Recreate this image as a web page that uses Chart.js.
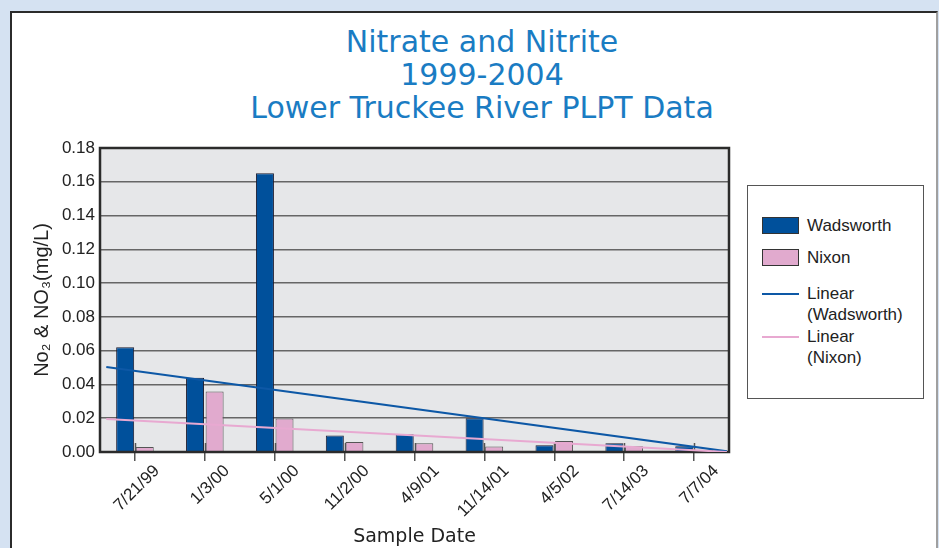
<!DOCTYPE html>
<html lang="en">
<head>
    <meta charset="UTF-8">
    <title>Nitrate and Nitrite 1999-2004</title>
    <style>
        body {
            margin: 0;
            background: #d5e2f2;
            width: 939px;
            height: 548px;
            overflow: hidden;
            position: relative;
        }
        #panel {
            position: absolute;
            left: 10px;
            top: 11px;
            width: 924px;
            height: 600px;
            background: #fff;
            border-top: 2px solid #2b2b2b;
            border-left: 2px solid #2b2b2b;
            border-right: 2px solid #a0a0a0;
        }
        #title {
            position: absolute;
            left: 232px;
            width: 500px;
            top: 25px;
            text-align: center;
            font-family: "DejaVu Sans", sans-serif;
            font-size: 30px;
            line-height: 33px;
            color: #1a7cc3;
            white-space: nowrap;
        }
        .chartBox {
            position: absolute;
            left: 0;
            top: 0;
            width: 939px;
            height: 548px;
        }
        #legend {
            position: absolute;
            left: 747px;
            top: 185px;
            width: 175px;
            height: 212px;
            border: 1px solid #555;
            background: #fff;
            font-family: "Liberation Sans", Arial, sans-serif;
            font-size: 17px;
            color: #222;
        }
        .item {
            position: absolute;
            left: 14px;
            line-height: 21px;
        }
        .item .mark {
            position: absolute;
            left: 0;
            width: 37px;
        }
        .item .text {
            position: absolute;
            left: 45px;
            white-space: nowrap;
        }
    </style>
</head>
<body>
    <div id="panel"></div>
    <div id="title"></div>
    <div class="chartBox"><canvas id="chart"></canvas></div>
    <div class="chartBox"><canvas id="trend"></canvas></div>
    <div id="legend"></div>

    <script src="https://cdn.jsdelivr.net/npm/chart.js"></script>
    <script>
        var titleLines = ['Nitrate and Nitrite', '1999-2004', 'Lower Truckee River PLPT Data'];
        var categories = ['7/21/99', '1/3/00', '5/1/00', '11/2/00', '4/9/01', '11/14/01', '4/5/02', '7/14/03', '7/7/04'];
        var wadsworth = [0.062, 0.044, 0.165, 0.0097, 0.0105, 0.020, 0.004, 0.0052, 0.0034];
        var nixon = [0.003, 0.0358, 0.0198, 0.0059, 0.0052, 0.0032, 0.0065, 0.0034, 0.0014];
        // trend lines, x in category units (0 = left edge of plot)
        var trendX = [0.09, 8.97];
        var trendWadsworth = [0.0503, 0.0004];
        var trendNixon = [0.0196, 0.0];
        var yMin = 0, yMax = 0.18, yStep = 0.02;

        // plot box shared by both charts
        var area = { left: 100, right: 210, top: 148, bottom: 96 };

        document.getElementById('title').innerHTML = titleLines.join('<br>');

        function trendPoints(ys) {
            return trendX.map(function (x, i) { return { x: x, y: ys[i] }; });
        }

        // grey plot background, dark frame and little tick marks above the axis
        var plotFrame = {
            id: 'plotFrame',
            beforeDraw: function (chart) {
                var a = chart.chartArea, ctx = chart.ctx;
                ctx.save();
                ctx.fillStyle = '#e6e7e9';
                ctx.fillRect(a.left, a.top, a.right - a.left, a.bottom - a.top);
                ctx.restore();
            },
            afterDatasetsDraw: function (chart) {
                var a = chart.chartArea, ctx = chart.ctx, xs = chart.scales.x;
                ctx.save();
                ctx.strokeStyle = '#555';
                ctx.lineWidth = 1.5;
                xs.ticks.forEach(function (t, i) {
                    var px = Math.round(xs.getPixelForTick(i)) + 0.5;
                    ctx.beginPath();
                    ctx.moveTo(px, a.bottom - 9);
                    ctx.lineTo(px, a.bottom);
                    ctx.stroke();
                });
                ctx.strokeStyle = '#2b2b2b';
                ctx.lineWidth = 2.5;
                ctx.strokeRect(a.left, a.top, a.right - a.left, a.bottom - a.top);
                ctx.restore();
            }
        };

        var chart = new Chart(document.getElementById('chart'), {
            type: 'bar',
            data: {
                labels: categories,
                datasets: [{
                    label: 'Wadsworth',
                    data: wadsworth,
                    backgroundColor: '#00509b',
                    borderColor: '#1c1c30',
                    borderWidth: 1,
                    categoryPercentage: 0.56,
                    barPercentage: 0.92
                }, {
                    label: 'Nixon',
                    data: nixon,
                    backgroundColor: '#e1aace',
                    borderColor: '#555',
                    borderWidth: 1,
                    categoryPercentage: 0.56,
                    barPercentage: 0.92
                }]
            },
            options: {
                responsive: true,
                maintainAspectRatio: false,
                animation: false,
                layout: { padding: { left: 0, right: area.right, top: area.top, bottom: 0 } },
                plugins: {
                    legend: { display: false },
                    title: { display: false },
                    tooltip: { enabled: false }
                },
                scales: {
                    x: {
                        afterFit: function (s) { s.height = area.bottom; },
                        grid: {
                            offset: false,
                            drawOnChartArea: false,
                            drawTicks: true,
                            tickLength: 9,
                            color: '#555',
                            lineWidth: 1.5
                        },
                        border: { display: false },
                        ticks: {
                            minRotation: 45,
                            maxRotation: 45,
                            labelOffset: 22,
                            padding: 0,
                            color: '#222',
                            font: { family: '"Liberation Sans", Arial, sans-serif', size: 17 }
                        },
                        title: {
                            display: true,
                            text: 'Sample Date',
                            color: '#222',
                            padding: { top: 6, bottom: 0 },
                            font: { family: '"DejaVu Sans", sans-serif', size: 19 }
                        }
                    },
                    y: {
                        min: yMin,
                        max: yMax,
                        afterFit: function (s) { s.width = area.left; },
                        grid: {
                            color: '#666',
                            lineWidth: 1.5,
                            drawTicks: false
                        },
                        border: { display: false },
                        ticks: {
                            stepSize: yStep,
                            padding: 5,
                            color: '#222',
                            font: { family: '"Liberation Sans", Arial, sans-serif', size: 17 },
                            callback: function (v) { return v.toFixed(2); }
                        },
                        title: {
                            display: true,
                            text: 'No\u2082 & NO\u2083(mg/L)',
                            color: '#222',
                            padding: { top: 30, bottom: 0 },
                            font: { family: '"Liberation Sans", Arial, sans-serif', size: 20 }
                        }
                    }
                }
            },
            plugins: [plotFrame]
        });

        // linear trend lines on a transparent chart laid over the same plot box
        var trend = new Chart(document.getElementById('trend'), {
            type: 'line',
            data: {
                datasets: [{
                    label: 'Linear\n(Wadsworth)',
                    data: trendPoints(trendWadsworth),
                    borderColor: '#0d58a6',
                    borderWidth: 2,
                    pointRadius: 0,
                    order: 1
                }, {
                    label: 'Linear\n(Nixon)',
                    data: trendPoints(trendNixon),
                    borderColor: '#e8a9d1',
                    borderWidth: 2,
                    pointRadius: 0,
                    order: 0
                }]
            },
            options: {
                responsive: true,
                maintainAspectRatio: false,
                animation: false,
                layout: { padding: area },
                plugins: {
                    legend: { display: false },
                    tooltip: { enabled: false }
                },
                scales: {
                    x: { type: 'linear', display: false, min: 0, max: categories.length },
                    y: { display: false, min: yMin, max: yMax }
                }
            }
        });

        // legend box built from the datasets
        var legend = document.getElementById('legend');
        var rowTops = [31, 63, 98, 141];
        var items = chart.data.datasets.map(function (ds) { return { ds: ds, bar: true }; })
            .concat(trend.data.datasets.map(function (ds) { return { ds: ds, bar: false }; }));
        items.forEach(function (it, i) {
            var ds = it.ds;
            var item = document.createElement('div');
            item.className = 'item';
            item.style.top = rowTops[i] + 'px';
            var mark = document.createElement('div');
            mark.className = 'mark';
            if (it.bar) {
                mark.style.top = '0px';
                mark.style.height = '15px';
                mark.style.background = ds.backgroundColor;
                mark.style.border = '1px solid #333';
                mark.style.width = '35px';
            } else {
                mark.style.top = '9px';
                mark.style.height = '0px';
                mark.style.borderTop = '2px solid ' + ds.borderColor;
            }
            var text = document.createElement('div');
            text.className = 'text';
            text.style.top = it.bar ? '-2px' : '-1px';
            text.innerHTML = ds.label.split('\n').join('<br>');
            item.appendChild(mark);
            item.appendChild(text);
            legend.appendChild(item);
        });
    </script>
</body>
</html>
